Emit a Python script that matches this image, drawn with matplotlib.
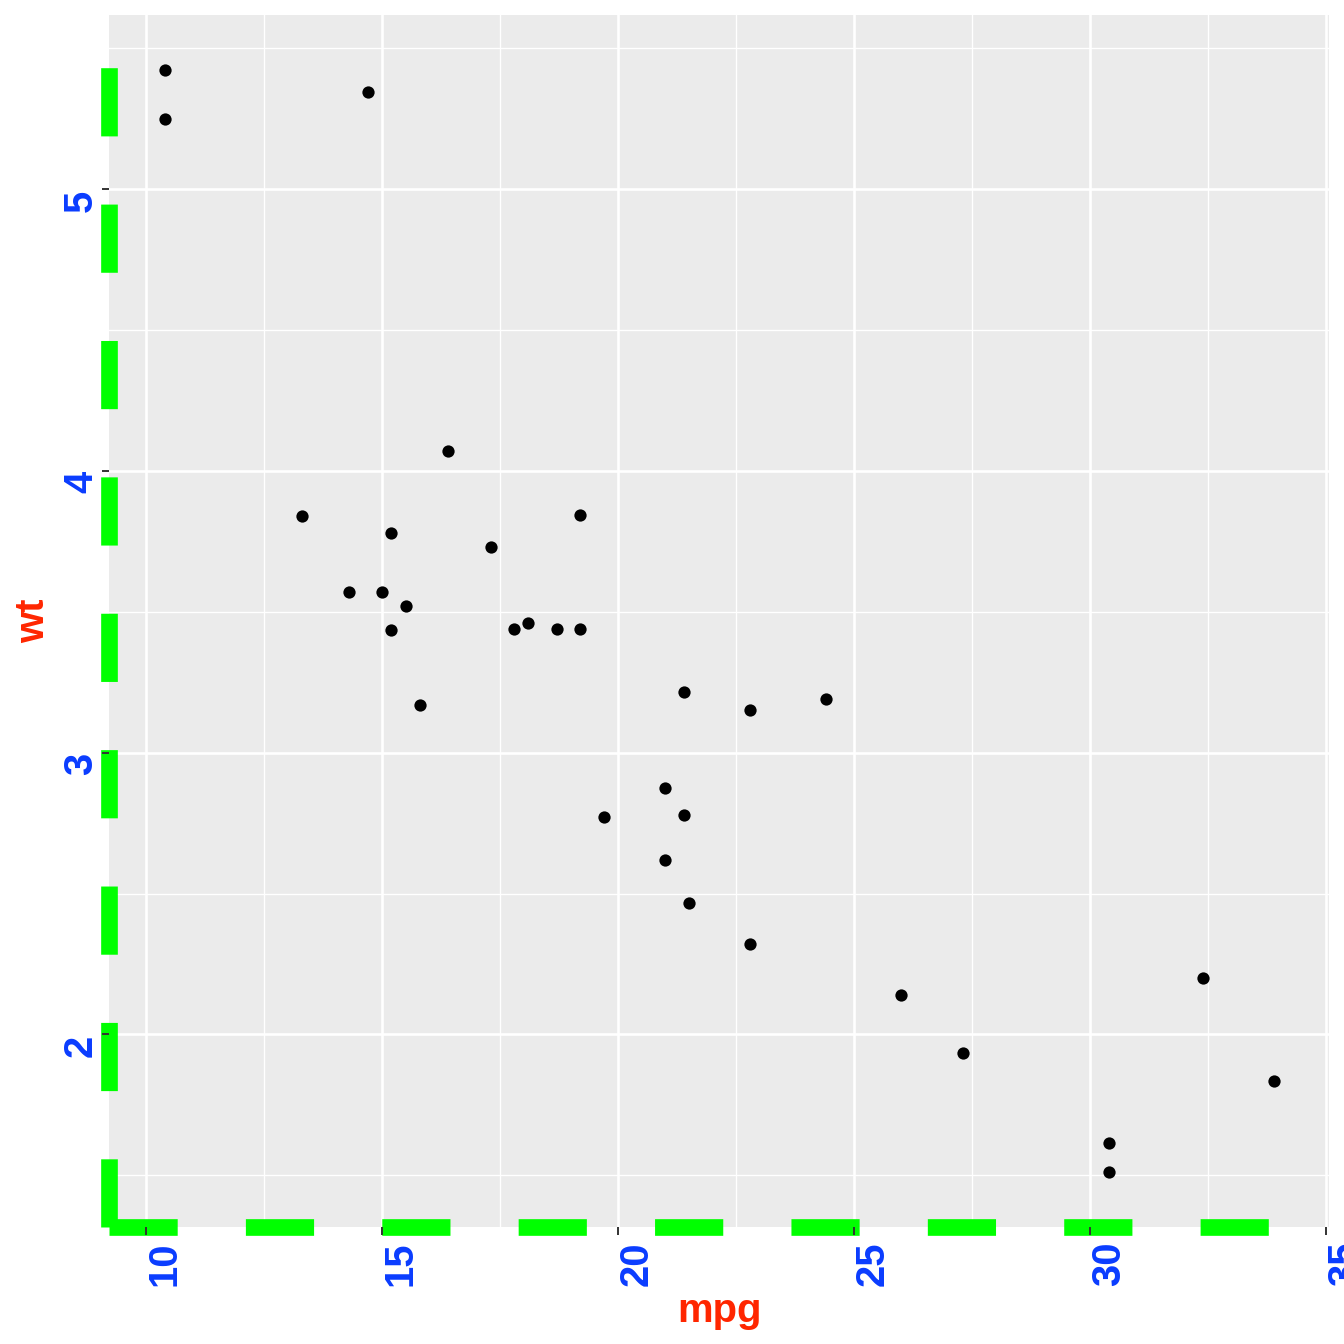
import matplotlib
matplotlib.use('Agg')
import matplotlib.pyplot as plt
import numpy as np
from matplotlib.lines import Line2D

plt.rcParams['lines.scale_dashes'] = False
plt.rcParams['font.family'] = ['Liberation Sans', 'DejaVu Sans']

# mtcars data
mpg = [21.0, 21.0, 22.8, 21.4, 18.7, 18.1, 14.3, 24.4, 22.8, 19.2, 17.8, 16.4,
       17.3, 15.2, 10.4, 10.4, 14.7, 32.4, 30.4, 33.9, 21.5, 15.5, 15.2, 13.3,
       19.2, 27.3, 26.0, 30.4, 15.8, 19.7, 15.0, 21.4]
wt = [2.620, 2.875, 2.320, 3.215, 3.440, 3.460, 3.570, 3.190, 3.150, 3.440,
      3.440, 4.070, 3.730, 3.780, 5.250, 5.424, 5.345, 2.200, 1.615, 1.835,
      2.465, 3.520, 3.435, 3.840, 3.845, 1.935, 2.140, 1.513, 3.170, 2.770,
      3.570, 2.780]
x_ticks = [10, 15, 20, 25, 30, 35]
y_ticks = [2, 3, 4, 5]
x_tick_labels = ['10', '15', '20', '25', '30', '35']
y_tick_labels = ['2', '3', '4', '5']
x_title = 'mpg'
y_title = 'wt'

BLUE = '#0A3CFF'
RED = '#FF2600'
GREEN = '#00FF00'
FS = 28.8

W = 1344
fig = plt.figure(figsize=(13.44, 13.44), dpi=100)
L, R, T, B = 109.4, 1329.5, 14.8, 1226.6
ax = fig.add_axes([L / W, 1 - B / W, (R - L) / W, (B - T) / W])
ax.set_facecolor('#EBEBEB')
for s in ax.spines.values():
    s.set_visible(False)

xr = max(mpg) - min(mpg)
yr = max(wt) - min(wt)
xlim = (min(mpg) - 0.05 * xr, max(mpg) + 0.05 * xr)
ylim = (min(wt) - 0.05 * yr, max(wt) + 0.05 * yr)
ax.set_xlim(*xlim)
ax.set_ylim(*ylim)

def minor_breaks(ticks, lim):
    step = ticks[1] - ticks[0]
    vals = np.arange(ticks[0] - step / 2, lim[1], step)
    return [v for v in vals if lim[0] <= v <= lim[1]]

for v in minor_breaks(x_ticks, xlim):
    ax.axvline(v, color='white', lw=0.95, zorder=0.7)
for v in minor_breaks(y_ticks, ylim):
    ax.axhline(v, color='white', lw=0.95, zorder=0.7)
for v in x_ticks:
    ax.axvline(v, color='white', lw=1.9, zorder=0.8)
for v in y_ticks:
    ax.axhline(v, color='white', lw=1.9, zorder=0.8)

dash = (0, (49.1, 49.1))
ax.add_line(Line2D([0, 1], [0, 0], transform=ax.transAxes, color=GREEN, lw=12,
                   linestyle=dash, dash_capstyle='butt', clip_on=False, zorder=2))
ax.add_line(Line2D([0, 0], [0, 1], transform=ax.transAxes, color=GREEN, lw=12,
                   linestyle=dash, dash_capstyle='butt', clip_on=False, zorder=2))

ax.scatter(mpg, wt, s=78, color='black', linewidths=0, zorder=3)

ax.set_axisbelow(False)
ax.set_xticks(x_ticks)
ax.set_yticks(y_ticks)
ax.set_xticklabels(x_tick_labels, rotation=90, ha='left', va='top',
                   fontweight='bold', color=BLUE, fontsize=FS)
ax.set_yticklabels(y_tick_labels, rotation=90, ha='right', va='top',
                   fontweight='bold', color=BLUE, fontsize=FS)
ax.tick_params(axis='both', length=5.4, width=1.4, color='#333333', direction='out')
ax.tick_params(axis='x', pad=5.0)
ax.tick_params(axis='y', pad=1.3)

fig.text((L + R) / 2 / W, 1 - 1322 / W, x_title, ha='center', va='baseline',
         color=RED, fontweight='bold', fontsize=FS)
fig.text(44 / W, 1 - (T + B) / 2 / W, y_title, rotation=90, rotation_mode='anchor',
         ha='center', va='baseline', color=RED, fontweight='bold', fontsize=FS)

fig.savefig('out.png', dpi=100)
